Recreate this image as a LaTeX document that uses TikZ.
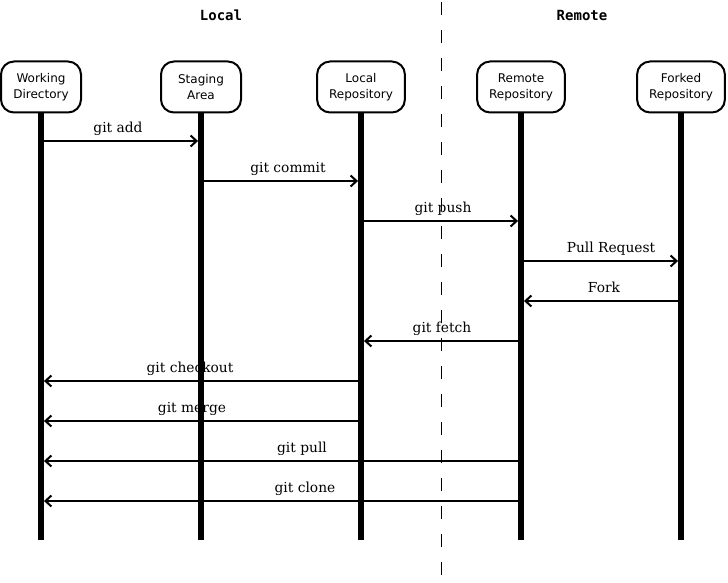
\documentclass[tikz,border=0pt]{standalone}
\usepackage{fontspec}
\setmainfont{DejaVu Serif}
\newfontfamily\boxfont{DejaVu Sans}
\newfontfamily\headfont{DejaVu Sans Mono}
\usetikzlibrary{arrows.meta}
\begin{document}
\begin{tikzpicture}[x=1pt,y=-1pt,
  actor/.style={draw, line width=2pt, rounded corners=13pt, fill=white,
    align=center, font=\boxfont\fontsize{12}{16}\selectfont,
    minimum height=51pt, minimum width=80pt, inner xsep=12pt, inner ysep=2pt},
  lifeline/.style={fill=black, inner sep=0pt, minimum width=5.5pt,
    minimum height=428pt, anchor=north},
  header/.style={font=\headfont\bfseries\fontsize{14}{16}\selectfont},
  lbl/.style={font=\fontsize{13.8}{15}\selectfont, anchor=base, inner sep=0pt},
  msg/.style={line width=2pt, -{Straight Barb[length=6pt,width=11pt]}},
  divider/.style={line width=1pt, dash pattern=on 13pt off 15pt}
]
\useasboundingbox (0,0) rectangle (728,583);

% section headers and divider
\node[header] (hlocal) at (221,15) {Local};
\node[header] (hremote) at (582,15) {Remote};
\coordinate (dtop) at (441,2);
\coordinate (dbot) at (441,583);
\draw[divider] (dtop) -- (dbot);

% message labels (lifelines are drawn over them)
\node[lbl] (tadd)      at (118,132) {git add};
\node[lbl] (tcommit)   at (288,172) {git commit};
\node[lbl] (tpush)     at (443,212) {git push};
\node[lbl] (tpr)       at (611,252) {Pull Request};
\node[lbl] (tfork)     at (604,292) {Fork};
\node[lbl] (tfetch)    at (442,332) {git fetch};
\node[lbl] (tcheckout) at (190,372) {git checkout};
\node[lbl] (tmerge)    at (192,412) {git merge};
\node[lbl] (tpull)     at (302,452) {git pull};
\node[lbl] (tclone)    at (305,492) {git clone};

% lifelines
\node[lifeline] (lwd) at (41,112) {};
\node[lifeline] (lsa) at (201,112) {};
\node[lifeline] (llr) at (361,112) {};
\node[lifeline] (lrr) at (521,112) {};
\node[lifeline] (lfr) at (681,112) {};

% participants
\node[actor] (wd) at (41,87)  {Working\\Directory};
\node[actor] (sa) at (201,87) {Staging\\Area};
\node[actor] (lr) at (361,87) {Local\\Repository};
\node[actor] (rr) at (521,87) {Remote\\Repository};
\node[actor] (fr) at (681,87) {Forked\\Repository};

% messages
\draw[msg] (lwd.east |- 0,141) -- (lsa.west |- 0,141);
\draw[msg] (lsa.east |- 0,181) -- (llr.west |- 0,181);
\draw[msg] (llr.east |- 0,221) -- (lrr.west |- 0,221);
\draw[msg] (lrr.east |- 0,261) -- (lfr.west |- 0,261);
\draw[msg] (lfr.west |- 0,301) -- (lrr.east |- 0,301);
\draw[msg] (lrr.west |- 0,341) -- (llr.east |- 0,341);
\draw[msg] (llr.west |- 0,381) -- (lwd.east |- 0,381);
\draw[msg] (llr.west |- 0,421) -- (lwd.east |- 0,421);
\draw[msg] (lrr.west |- 0,461) -- (lwd.east |- 0,461);
\draw[msg] (lrr.west |- 0,501) -- (lwd.east |- 0,501);
\end{tikzpicture}
\end{document}
